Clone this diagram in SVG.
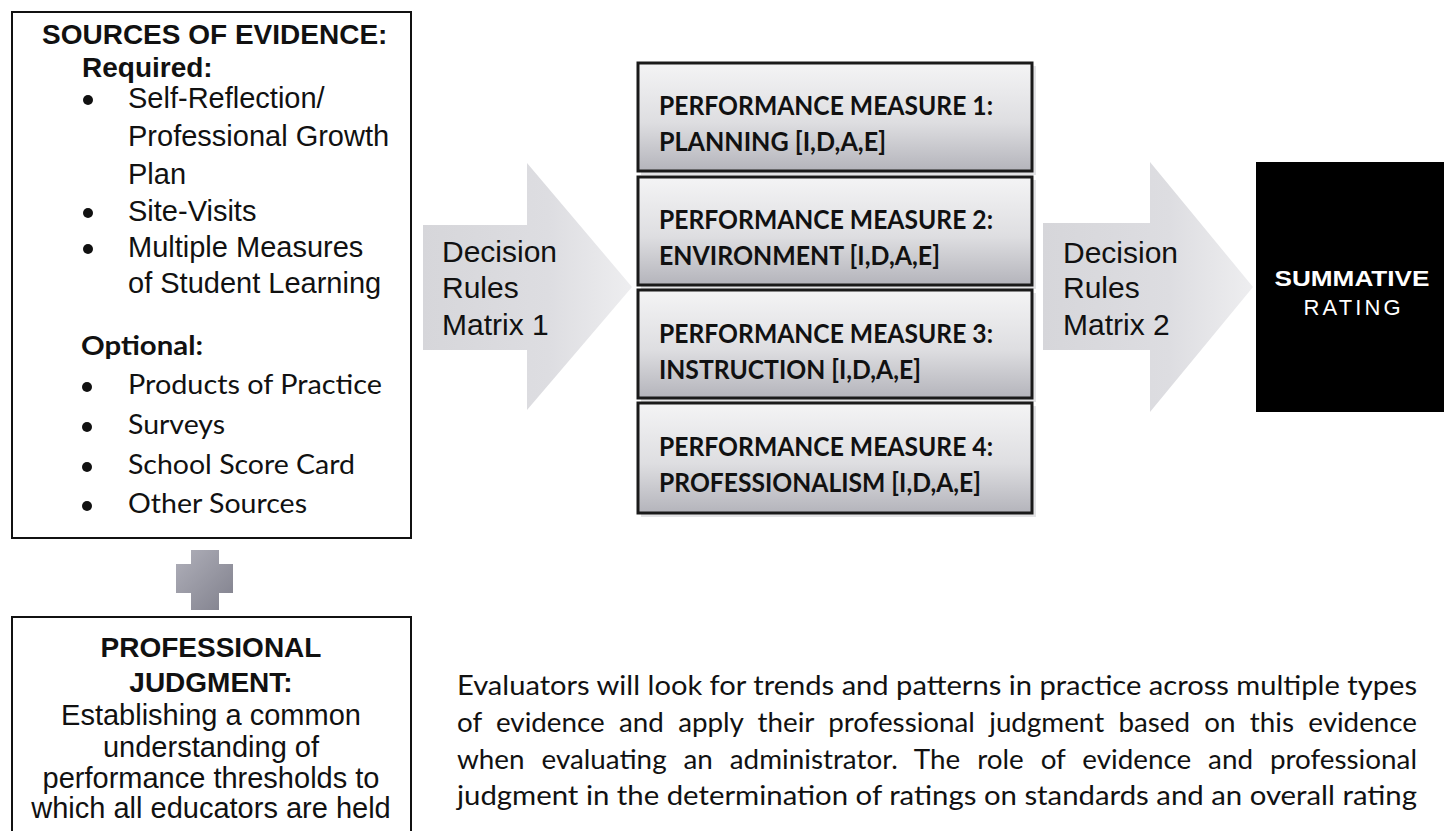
<svg xmlns="http://www.w3.org/2000/svg" width="1444" height="831" viewBox="0 0 1444 831">
  <style>
    .arial { font-family: "Liberation Sans", Arial, sans-serif; fill: #111; }
    .calibri { font-family: Lato, "Open Sans", sans-serif; fill: #111; }
    .b { font-weight: bold; }
    .h { font-size: 28px; }
    .body { font-size: 29px; }
    .cal { font-size: 27px; }
    .dr { font-size: 30px; }
    .box { fill: #fff; stroke: #111; stroke-width: 2; }
    .pm { fill: url(#pmGrad); stroke: #1a1a1a; stroke-width: 3; }
    .pmshadow { fill: #c8c8cc; opacity: 0.5; }
    .bullet { fill: #111; }
    .arrow { fill: url(#arrowGrad); }
    .para { font-family: Lato, "Open Sans", sans-serif; font-size: 27px; fill: #111; }
  </style>
  <defs>
    <linearGradient id="pmGrad" x1="0" y1="0" x2="0" y2="1">
      <stop offset="0" stop-color="#f4f4f5"/>
      <stop offset="0.55" stop-color="#dedee1"/>
      <stop offset="1" stop-color="#b4b4bb"/>
    </linearGradient>
    <linearGradient id="arrowGrad" x1="0" y1="0" x2="1" y2="0">
      <stop offset="0" stop-color="#d6d6da"/>
      <stop offset="0.6" stop-color="#dddde1"/>
      <stop offset="1" stop-color="#eeeef0"/>
    </linearGradient>
    <linearGradient id="crossGrad" x1="0" y1="0" x2="1" y2="1">
      <stop offset="0" stop-color="#b0b0ba"/>
      <stop offset="1" stop-color="#80808c"/>
    </linearGradient>
  </defs>
  <rect width="1444" height="831" fill="#ffffff"/>

  <g id="sources">
    <rect class="box" x="12" y="12" width="399" height="526"/>
    <text class="arial b h" x="42" y="44">SOURCES OF EVIDENCE:</text>
    <text class="arial b h" x="82" y="77">Required:</text>
    <circle class="bullet" cx="88" cy="100" r="5"/>
    <text class="arial body" x="128" y="108">Self-Reflection/</text>
    <text class="arial body" x="128" y="146">Professional Growth</text>
    <text class="arial body" x="128" y="184">Plan</text>
    <circle class="bullet" cx="88" cy="213" r="5"/>
    <text class="arial body" x="128" y="221">Site-Visits</text>
    <circle class="bullet" cx="88" cy="249" r="5"/>
    <text class="arial body" x="128" y="257">Multiple Measures</text>
    <text class="arial body" x="128" y="293">of Student Learning</text>
    <text class="calibri b cal" x="81" y="355" textLength="122" lengthAdjust="spacingAndGlyphs">Optional:</text>
    <circle class="bullet" cx="87" cy="387" r="5"/>
    <text class="calibri cal" x="128" y="394" textLength="254" lengthAdjust="spacingAndGlyphs">Products of Practice</text>
    <circle class="bullet" cx="87" cy="427" r="5"/>
    <text class="calibri cal" x="128" y="434" textLength="97" lengthAdjust="spacingAndGlyphs">Surveys</text>
    <circle class="bullet" cx="87" cy="467" r="5"/>
    <text class="calibri cal" x="128" y="474" textLength="227" lengthAdjust="spacingAndGlyphs">School Score Card</text>
    <circle class="bullet" cx="87" cy="506" r="5"/>
    <text class="calibri cal" x="128" y="513" textLength="179" lengthAdjust="spacingAndGlyphs">Other Sources</text>
  </g>

  <g id="plus">
    <path d="M191,550 H219 V564 H233 V593 H219 V610 H191 V593 H176 V564 H191 Z" fill="url(#crossGrad)"/>
  </g>

  <g id="judgment">
    <rect class="box" x="12" y="617" width="399" height="230"/>
    <g class="arial" text-anchor="middle">
      <text class="b h" x="211" y="657">PROFESSIONAL</text>
      <text class="b h" x="211" y="692">JUDGMENT:</text>
      <text class="body" x="211" y="725">Establishing a common</text>
      <text class="body" x="211" y="757">understanding of</text>
      <text class="body" x="211" y="788">performance thresholds to</text>
      <text class="body" x="211" y="818">which all educators are held</text>
    </g>
  </g>

  <g id="connectors">
    <g id="arrow1">
      <polygon class="arrow" points="423,225 527,225 527,163 632,287 527,410 527,350 423,350"/>
      <text class="arial dr" x="442" y="262">Decision</text>
      <text class="arial dr" x="442" y="298">Rules</text>
      <text class="arial dr" x="442" y="335">Matrix 1</text>
    </g>
    <g id="arrow2">
      <polygon class="arrow" points="1043,223 1150,223 1150,162 1253,287 1150,412 1150,350 1043,350"/>
      <text class="arial dr" x="1063" y="263">Decision</text>
      <text class="arial dr" x="1063" y="298">Rules</text>
      <text class="arial dr" x="1063" y="335">Matrix 2</text>
    </g>
  </g>

  <g id="pm1">
    <rect class="pmshadow" x="641" y="66" width="395" height="109"/>
    <rect class="pm" x="638" y="63" width="394" height="108"/>
    <text class="calibri b cal" x="659" y="115" textLength="334" lengthAdjust="spacingAndGlyphs">PERFORMANCE MEASURE 1:</text>
    <text class="calibri b cal" x="659" y="151" textLength="227" lengthAdjust="spacingAndGlyphs">PLANNING [I,D,A,E]</text>
  </g>
  <g id="pm2">
    <rect class="pmshadow" x="641" y="180" width="395" height="109"/>
    <rect class="pm" x="638" y="177" width="394" height="108"/>
    <text class="calibri b cal" x="659" y="229" textLength="334" lengthAdjust="spacingAndGlyphs">PERFORMANCE MEASURE 2:</text>
    <text class="calibri b cal" x="659" y="265" textLength="281" lengthAdjust="spacingAndGlyphs">ENVIRONMENT [I,D,A,E]</text>
  </g>
  <g id="pm3">
    <rect class="pmshadow" x="641" y="293" width="395" height="109"/>
    <rect class="pm" x="638" y="290" width="394" height="108"/>
    <text class="calibri b cal" x="659" y="343" textLength="334" lengthAdjust="spacingAndGlyphs">PERFORMANCE MEASURE 3:</text>
    <text class="calibri b cal" x="659" y="379" textLength="262" lengthAdjust="spacingAndGlyphs">INSTRUCTION [I,D,A,E]</text>
  </g>
  <g id="pm4">
    <rect class="pmshadow" x="641" y="406" width="395" height="111"/>
    <rect class="pm" x="638" y="403" width="394" height="110"/>
    <text class="calibri b cal" x="659" y="456" textLength="334" lengthAdjust="spacingAndGlyphs">PERFORMANCE MEASURE 4:</text>
    <text class="calibri b cal" x="659" y="492" textLength="322" lengthAdjust="spacingAndGlyphs">PROFESSIONALISM [I,D,A,E]</text>
  </g>

  <g id="summative">
    <rect x="1256" y="162" width="188" height="250" fill="#000"/>
    <text class="b" x="1352" y="286" text-anchor="middle" font-family="Liberation Sans, Arial, sans-serif" font-size="22" fill="#fff" textLength="155" lengthAdjust="spacingAndGlyphs">SUMMATIVE</text>
    <text x="1352" y="315" text-anchor="middle" font-family="Liberation Sans, Arial, sans-serif" font-size="22" fill="#fff" textLength="97" lengthAdjust="spacing">RATING</text>
  </g>

  <g id="paragraph">
    <text class="para" x="457" y="695" textLength="960" lengthAdjust="spacingAndGlyphs">Evaluators will look for trends and patterns in practice across multiple types</text>
    <text class="para" x="457" y="732" word-spacing="7" textLength="960" lengthAdjust="spacingAndGlyphs">of evidence and apply their professional judgment based on this evidence</text>
    <text class="para" x="457" y="769" word-spacing="9.5" textLength="960" lengthAdjust="spacingAndGlyphs">when evaluating an administrator. The role of evidence and professional</text>
    <text class="para" x="457" y="805" textLength="960" lengthAdjust="spacingAndGlyphs">judgment in the determination of ratings on standards and an overall rating</text>
  </g>
</svg>
